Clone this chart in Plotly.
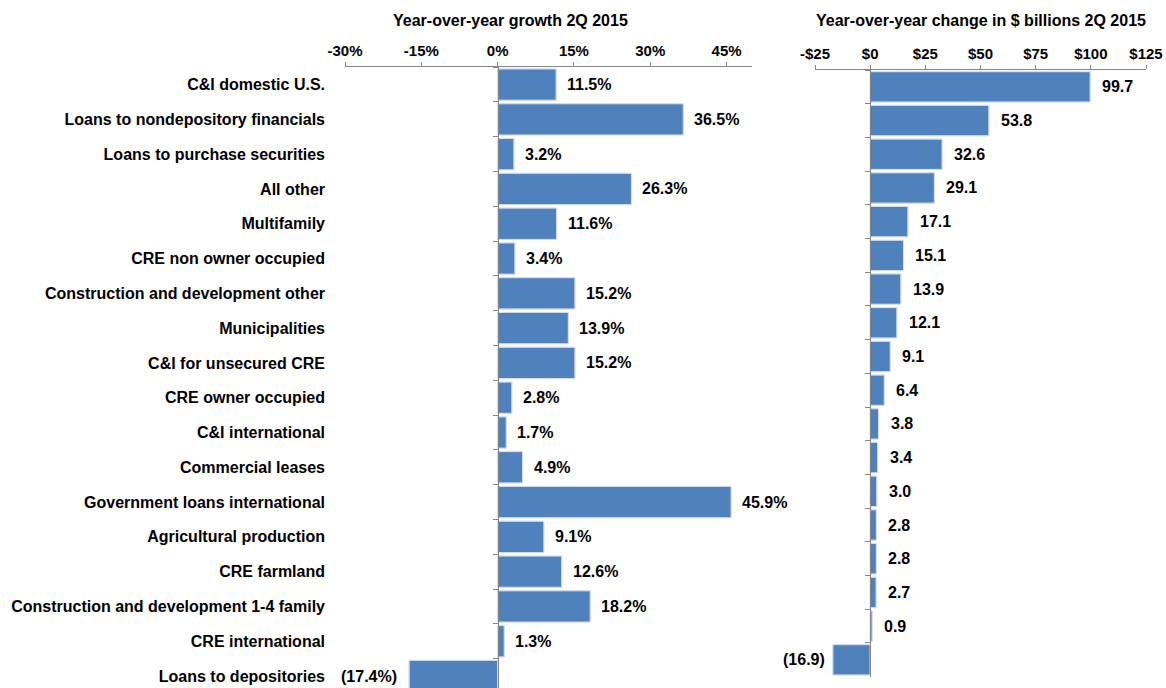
import plotly.graph_objects as go

categories = [
    "C&I domestic U.S.",
    "Loans to nondepository financials",
    "Loans to purchase securities",
    "All other",
    "Multifamily",
    "CRE non owner occupied",
    "Construction and development other",
    "Municipalities",
    "C&I for unsecured CRE",
    "CRE owner occupied",
    "C&I international",
    "Commercial leases",
    "Government loans international",
    "Agricultural production",
    "CRE farmland",
    "Construction and development 1-4 family",
    "CRE international",
    "Loans to depositories",
]
growth_pct = [11.5, 36.5, 3.2, 26.3, 11.6, 3.4, 15.2, 13.9, 15.2, 2.8, 1.7, 4.9,
              45.9, 9.1, 12.6, 18.2, 1.3, -17.4]
change_bn = [99.7, 53.8, 32.6, 29.1, 17.1, 15.1, 13.9, 12.1, 9.1, 6.4, 3.8, 3.4,
             3.0, 2.8, 2.8, 2.7, 0.9, -16.9]

pct_ticks = [-30, -15, 0, 15, 30, 45]
pct_ticklabels = ["-30%", "-15%", "0%", "15%", "30%", "45%"]
usd_ticks = [-25, 0, 25, 50, 75, 100, 125]
usd_ticklabels = ["-$25", "$0", "$25", "$50", "$75", "$100", "$125"]

title_left = "Year-over-year growth 2Q 2015"
title_right = "Year-over-year change in $ billions 2Q 2015"

W, H = 1166, 688
FONT = "Liberation Sans, Arial, sans-serif"
BAR = "#4F81BD"
AX = "#868686"

x1_dom = [345 / W, 752 / W]
x1_rng = [-30, 50]
x2_dom = [815 / W, 1146 / W]
x2_rng = [-25, 125]

y1_dom = [0, (H - 67.2) / H]
y1_rng = [-0.5 + (H - 67.2) / 34.79, -0.5]
y2_dom = [(H - 676.7) / H, (H - 70) / H]
y2_rng = [17.5, -0.5]


def zero_pos(dom, rng):
    return dom[0] + (0 - rng[0]) / (rng[1] - rng[0]) * (dom[1] - dom[0])


fig = go.Figure()
bar_line = dict(color="#C3CEDF", width=1)
fig.add_trace(go.Bar(x=growth_pct, y=categories, orientation="h", xaxis="x", yaxis="y",
                     marker=dict(color=BAR, line=bar_line), hoverinfo="x+y"))
fig.add_trace(go.Bar(x=change_bn, y=categories, orientation="h", xaxis="x2", yaxis="y2",
                     marker=dict(color=BAR, line=bar_line), hoverinfo="x+y"))
# invisible traces to carry the zero-positioned category axes
fig.add_trace(go.Bar(x=growth_pct, y=categories, orientation="h", xaxis="x", yaxis="y3",
                     marker=dict(color="rgba(0,0,0,0)"), hoverinfo="skip", showlegend=False))
fig.add_trace(go.Bar(x=change_bn, y=categories, orientation="h", xaxis="x2", yaxis="y4",
                     marker=dict(color="rgba(0,0,0,0)"), hoverinfo="skip", showlegend=False))

tickfont = dict(family=FONT, size=15, color="black", weight="bold")
labfont = dict(family=FONT, size=16, color="black", weight="bold")

xcommon = dict(side="top", showline=True, linecolor=AX, linewidth=1, ticks="outside",
               ticklen=4, tickcolor=AX, showgrid=False, zeroline=False, tickfont=tickfont,
               ticklabelstandoff=0, fixedrange=True, automargin=False)

fig.update_layout(
    width=W, height=H,
    margin=dict(l=0, r=0, t=0, b=0),
    paper_bgcolor="white", plot_bgcolor="white",
    showlegend=False, bargap=0.1, barmode="overlay",
    xaxis=dict(domain=x1_dom, range=x1_rng, anchor="y", tickvals=pct_ticks,
               ticktext=pct_ticklabels, **xcommon),
    xaxis2=dict(domain=x2_dom, range=x2_rng, anchor="y2", tickvals=usd_ticks,
                ticktext=usd_ticklabels, **xcommon),
    yaxis=dict(domain=y1_dom, range=y1_rng, anchor="x", showline=False, ticks="",
               showgrid=False, tickfont=labfont, ticklabelstandoff=19, fixedrange=True,
               automargin=False),
    yaxis2=dict(domain=y2_dom, range=y2_rng, anchor="x2", showline=False, ticks="",
                showgrid=False, showticklabels=False, fixedrange=True, automargin=False),
    yaxis3=dict(overlaying="y", anchor="free", position=zero_pos(x1_dom, x1_rng),
                range=y1_rng, showline=True, linecolor=AX, linewidth=1, ticks="outside",
                tickson="boundaries", ticklen=5, tickcolor=AX, showticklabels=False,
                showgrid=False, fixedrange=True, automargin=False),
    yaxis4=dict(overlaying="y2", anchor="free", position=zero_pos(x2_dom, x2_rng),
                range=y2_rng, showline=True, linecolor=AX, linewidth=1, ticks="outside",
                tickson="boundaries", ticklen=5, tickcolor=AX, showticklabels=False,
                showgrid=False, fixedrange=True, automargin=False),
)

ann = []
for c, v in zip(categories, growth_pct):
    txt = f"{v:.1f}%" if v >= 0 else f"({abs(v):.1f}%)"
    ann.append(dict(x=v, y=c, xref="x", yref="y", text=txt, showarrow=False,
                    xanchor="left" if v >= 0 else "right", xshift=9 if v >= 0 else -10,
                    font=labfont))
for c, v in zip(categories, change_bn):
    txt = f"{v:.1f}" if v >= 0 else f"({abs(v):.1f})"
    ann.append(dict(x=v, y=c, xref="x2", yref="y2", text=txt, showarrow=False,
                    xanchor="left" if v >= 0 else "right", xshift=10 if v >= 0 else -6,
                    font=labfont))
ann.append(dict(x=510 / W, y=1 - 20 / H, xref="paper", yref="paper", text=title_left,
                showarrow=False, xanchor="center", yanchor="middle", font=labfont))
ann.append(dict(x=981 / W, y=1 - 20 / H, xref="paper", yref="paper", text=title_right,
                showarrow=False, xanchor="center", yanchor="middle", font=labfont))
fig.update_layout(annotations=ann)

fig.write_html(
    "out.html",
    config={"displayModeBar": False},
    post_script="document.body.style.margin='0';document.body.style.overflow='hidden';",
)
